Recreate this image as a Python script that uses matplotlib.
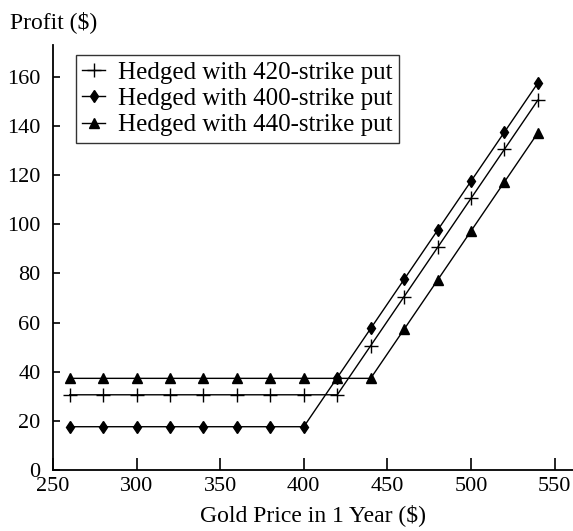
import matplotlib
matplotlib.use('Agg')
import matplotlib.pyplot as plt

plt.rcParams['font.family'] = ['Liberation Serif', 'DejaVu Serif']
plt.rcParams['font.size'] = 16

# gold price in 1 year and profit of each hedged position
gold_price = [260, 280, 300, 320, 340, 360, 380, 400, 420, 440, 460, 480, 500, 520, 540]
put_420 = [30.6, 30.6, 30.6, 30.6, 30.6, 30.6, 30.6, 30.6, 30.6, 50.6, 70.6, 90.6, 110.6, 130.6, 150.6]
put_400 = [17.6, 17.6, 17.6, 17.6, 17.6, 17.6, 17.6, 17.6, 37.6, 57.6, 77.6, 97.6, 117.6, 137.6, 157.6]
put_440 = [37.3, 37.3, 37.3, 37.3, 37.3, 37.3, 37.3, 37.3, 37.3, 37.3, 57.3, 77.3, 97.3, 117.3, 137.3]

x_ticks = [250, 300, 350, 400, 450, 500, 550]
y_ticks = [0, 20, 40, 60, 80, 100, 120, 140, 160]

fig = plt.figure(figsize=(5.73, 5.31), dpi=100)
ax = fig.add_axes([0.0925, 0.115, 0.9075, 0.80])

ax.plot(gold_price, put_420, color='black', lw=1, marker='+', ms=10, mew=1,
        label='Hedged with 420-strike put')
ax.plot(gold_price, put_400, color='black', lw=1, marker='d', ms=6.5,
        label='Hedged with 400-strike put')
ax.plot(gold_price, put_440, color='black', lw=1, marker='^', ms=6.5,
        label='Hedged with 440-strike put')

ax.set_xlim(250, 561)
ax.set_ylim(0, 173)
ax.set_xticks(x_ticks)
ax.set_yticks(y_ticks)
ax.spines['top'].set_visible(False)
ax.spines['right'].set_visible(False)
ax.spines['left'].set_linewidth(1.3)
ax.spines['bottom'].set_linewidth(1.3)
ax.tick_params(axis='x', direction='in', length=9, width=1.2, pad=5)
ax.tick_params(axis='y', direction='in', length=5, width=1.2, pad=9)

ax.set_xlabel('Gold Price in 1 Year ($)', fontsize=17, labelpad=6)
fig.text(0.017, 0.958, 'Profit ($)', ha='left', va='center', fontsize=17)

leg = ax.legend(loc='upper left', bbox_to_anchor=(76 / 573, 1 - 55 / 531),
                bbox_transform=fig.transFigure, frameon=True, fancybox=False,
                borderaxespad=0, handlelength=0.9, handletextpad=0.55,
                borderpad=0.25, labelspacing=0.15, fontsize=18)
leg.get_frame().set_edgecolor('black')
leg.get_frame().set_linewidth(1.0)

plt.savefig('out.png', dpi=100)
